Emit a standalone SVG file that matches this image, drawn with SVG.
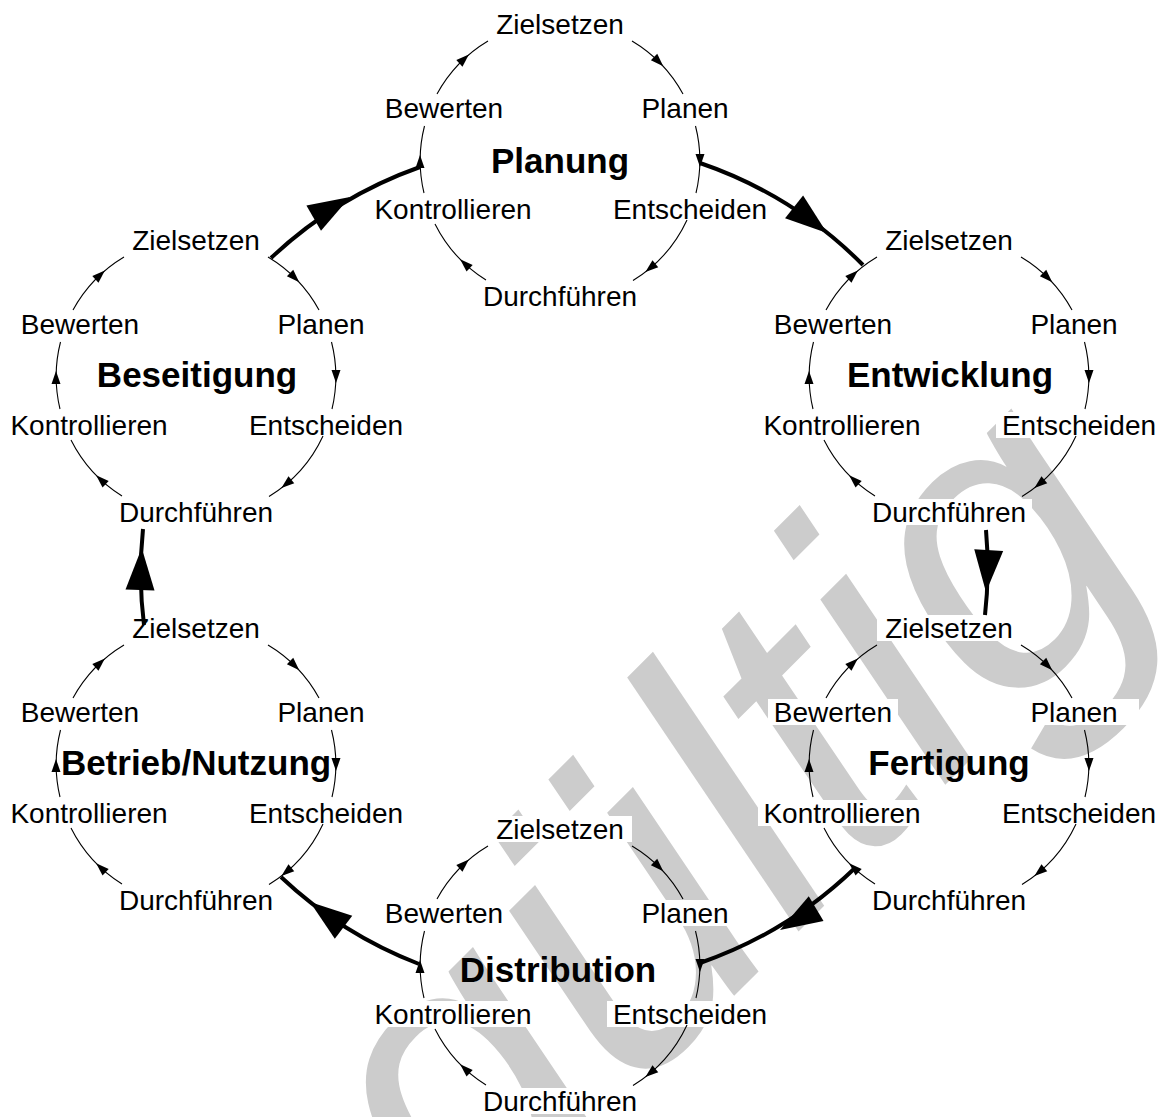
<svg xmlns="http://www.w3.org/2000/svg" xmlns:xlink="http://www.w3.org/1999/xlink" width="1166" height="1117" viewBox="0 0 1166 1117">
<style>
.lb{font-family:"Liberation Sans",Arial,sans-serif;font-size:28px;fill:#000;text-anchor:middle}
.tt{font-family:"Liberation Sans",Arial,sans-serif;font-size:35px;font-weight:bold;fill:#000;text-anchor:middle}
.arc{fill:none;stroke:#000;stroke-width:1.1}
.bx{fill:#fff}
.con{fill:none;stroke:#000;stroke-width:4}
.wm{font-family:"Liberation Sans",Arial,sans-serif;font-style:italic;font-size:415px;fill:#cccccc}
</style>
<defs>
<path id="sa" d="M6,0 L-7,-4.5 L-7,4.5 Z" fill="#000"/>
<path id="ba" d="M0,0 L-42,-14.5 L-42,14.5 Z" fill="#000"/>
<g id="ring">
<g class="arc">
<path d="M72,-120 A140,140 0 0 1 123,-67"/>
<path d="M135.5,-35 A140,140 0 0 1 136,32"/>
<path d="M127,59 A140,140 0 0 1 73,119.5"/>
<path d="M-74,119 A140,140 0 0 1 -125,63"/>
<path d="M-136,32 A140,140 0 0 1 -135.5,-35"/>
<path d="M-123,-67 A140,140 0 0 1 -72,-120"/>
</g>
<use xlink:href="#sa" transform="translate(99,-99) rotate(45)"/>
<use xlink:href="#sa" transform="translate(140,0) rotate(90)"/>
<use xlink:href="#sa" transform="translate(90,107.2) rotate(140)"/>
<use xlink:href="#sa" transform="translate(-95.5,102.4) rotate(223)"/>
<use xlink:href="#sa" transform="translate(-140,0) rotate(270)"/>
<use xlink:href="#sa" transform="translate(-95.5,-102.4) rotate(317)"/>
</g>
<g id="boxes" class="bx">
<rect x="-72" y="-150" width="144" height="26"/>
<rect x="80" y="-66" width="110" height="26"/>
<rect x="47" y="35" width="166" height="26"/>
<rect x="-83" y="122" width="166" height="26"/>
<rect x="-191" y="35" width="168" height="26"/>
<rect x="-181" y="-66" width="130" height="26"/>
</g>
<g id="labels">
<text class="lb" x="0" y="-127">Zielsetzen</text>
<text class="lb" x="125" y="-43">Planen</text>
<text class="lb" x="130" y="58">Entscheiden</text>
<text class="lb" x="0" y="145">Durchführen</text>
<text class="lb" x="-107" y="58">Kontrollieren</text>
<text class="lb" x="-116" y="-43">Bewerten</text>
</g>
</defs>
<rect width="1166" height="1117" fill="#fff"/>
<g id="watermark">
<text class="wm" transform="translate(141,1589) rotate(-45)">ungültig</text>
</g>
<g id="planung" transform="translate(560,161)">
<use xlink:href="#boxes"/><use xlink:href="#ring"/><use xlink:href="#labels"/>
<text class="tt" x="0" y="12">Planung</text>
</g>
<g id="beseitigung" transform="translate(196,377)">
<use xlink:href="#boxes"/><use xlink:href="#ring"/><use xlink:href="#labels"/>
<text class="tt" x="1" y="10">Beseitigung</text>
</g>
<g id="entwicklung" transform="translate(949,377)">
<use xlink:href="#boxes"/><use xlink:href="#ring"/><use xlink:href="#labels"/>
<text class="tt" x="1" y="10">Entwicklung</text>
</g>
<g id="betrieb" transform="translate(196,765)">
<use xlink:href="#boxes"/><use xlink:href="#ring"/><use xlink:href="#labels"/>
<text class="tt" x="0" y="10">Betrieb/Nutzung</text>
</g>
<g id="fertigung" transform="translate(949,765)">
<use xlink:href="#boxes"/><use xlink:href="#ring"/><use xlink:href="#labels"/>
<text class="tt" x="0" y="10">Fertigung</text>
</g>
<g id="distribution" transform="translate(560,966)">
<use xlink:href="#boxes"/><use xlink:href="#ring"/><use xlink:href="#labels"/>
<text class="tt" x="-2" y="16">Distribution</text>
</g>
<g id="connectors">
<path class="con" d="M271,258 A423,423 0 0 1 420,167"/>
<use xlink:href="#ba" transform="translate(350,197) rotate(-30.2)"/>
<path class="con" d="M700,163 A423,423 0 0 1 863,265"/>
<use xlink:href="#ba" transform="translate(827,233) rotate(38.4)"/>
<path class="con" d="M986,530 A423,423 0 0 1 985,615"/>
<use xlink:href="#ba" transform="translate(986,592) rotate(93.7)"/>
<path class="con" d="M855,868 A423,423 0 0 1 700,963"/>
<use xlink:href="#ba" transform="translate(780,930) rotate(149.4)"/>
<path class="con" d="M419,964 A423,423 0 0 1 281,877"/>
<use xlink:href="#ba" transform="translate(310,902) rotate(217)"/>
<path class="con" d="M144,625 A423,423 0 0 1 143,529"/>
<use xlink:href="#ba" transform="translate(141.7,548) rotate(272.3)"/>
</g>
</svg>
